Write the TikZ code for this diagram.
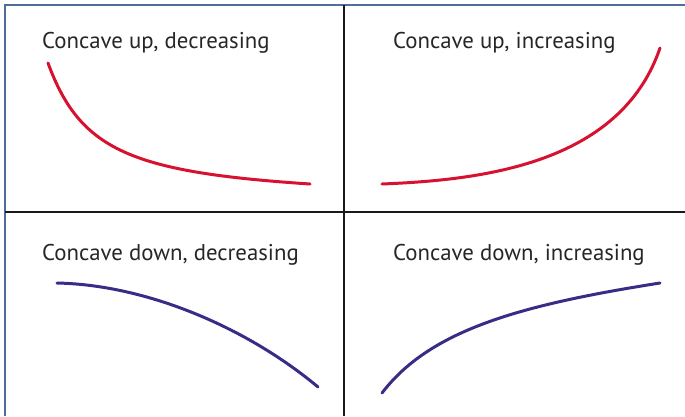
\documentclass[tikz,border=0pt]{standalone}
\usepackage{fontspec}
\setmainfont{PT Sans}
\definecolor{upred}{RGB}{214,18,48}
\definecolor{downblue}{RGB}{55,45,135}
\definecolor{frameblue}{RGB}{80,108,155}
\tikzset{
    caption/.style={anchor=west, inner sep=0pt, font=\fontsize{22.8}{25}\selectfont, text=black!85},
    curveup/.style={upred, line width=3pt, line cap=round},
    curvedown/.style={downblue, line width=3pt, line cap=round},
}
\begin{document}
\begin{tikzpicture}[x=1pt, y=-1pt]
    \useasboundingbox (0,0) rectangle (685,416);
    % Marco exterior y divisiones de los cuadrantes.
    \draw[frameblue, line width=2pt] (4.5,416) -- (4.5,4.5) -- (685,4.5);
    \draw[black!90, line width=2pt] (344,5) -- (344,416);
    \draw[black!90, line width=2pt] (5,211.5) -- (685,211.5);

    % Concavas hacia arriba.
    \node[caption] (updec) at (42,43) {Concave up, decreasing};
    \node[caption] (upinc) at (393,43) {Concave up, increasing};
    \draw[curveup] (48,63) .. controls (80,150) and (130,172) .. (310,184);
    \draw[curveup] (382,184) .. controls (480,180) and (620,165) .. (660,48);

    % Concavas hacia abajo.
    \node[caption] (downdec) at (42,255) {Concave down, decreasing};
    \node[caption] (downinc) at (393,255) {Concave down, increasing};
    \draw[curvedown] (57,283) .. controls (150,285) and (250,330) .. (318,387);
    \draw[curvedown] (382,393) .. controls (430,330) and (520,305) .. (660,283);
\end{tikzpicture}
\end{document}
